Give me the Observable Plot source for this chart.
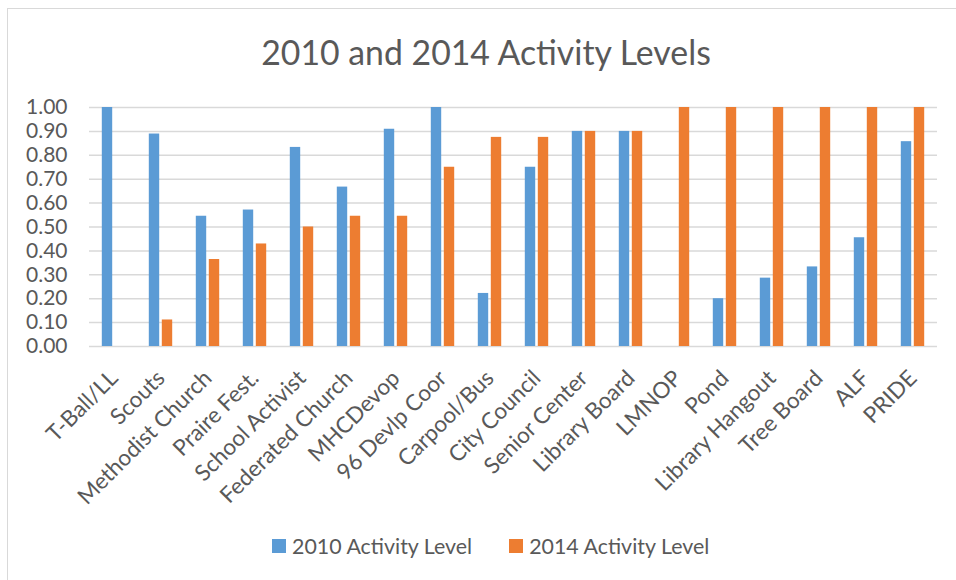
<!DOCTYPE html>
<html>
<head>
<meta charset="utf-8">
<script src="https://cdn.jsdelivr.net/npm/d3@7"></script>
<script src="https://cdn.jsdelivr.net/npm/@observablehq/plot@0.6"></script>
<style>
  html, body { margin: 0; padding: 0; background: #fff; }
  #chart { position: relative; width: 956px; height: 580px; overflow: hidden; font-family: Lato, "Open Sans", sans-serif; color: #595959; }
  #frame { position: absolute; left: 7px; top: 8px; width: 960px; height: 600px; border-left: 1.5px solid #d9d9d9; border-top: 1.5px solid #d9d9d9; }
  #title { position: absolute; left: 16px; width: 940px; top: 35px; text-align: center; font-size: 33.8px; line-height: 34px; white-space: nowrap; }
  #legend { position: absolute; left: 272px; top: 535px; display: flex; align-items: center; font-size: 21.4px; line-height: 22px; white-space: nowrap; }
  .item { display: flex; align-items: center; margin-right: 37px; }
  .swatch { width: 14px; height: 14px; margin-right: 6px; }
  #plot { position: absolute; left: 0; top: 0; }
</style>
</head>
<body>
<div id="chart">
  <div id="frame"></div>
  <div id="plot"></div>
  <div id="title"></div>
  <div id="legend"></div>
</div>
<script>
// Activity groups, in display order
const categories = [
  "T-Ball/LL", "Scouts", "Methodist Church", "Praire Fest.", "School Activist",
  "Federated Church", "MHCDevop", "96 Devlp Coor", "Carpool/Bus", "City Council",
  "Senior Center", "Library Board", "LMNOP", "Pond", "Library Hangout",
  "Tree Board", "ALF", "PRIDE"
];

// Activity level per group, 2010 and 2014
const level2010 = [1.00, 0.889, 0.545, 0.571, 0.833, 0.667, 0.909, 1.00, 0.222, 0.75,
                   0.90, 0.90, 0.00, 0.20, 0.286, 0.333, 0.455, 0.857];
const level2014 = [0.00, 0.111, 0.364, 0.429, 0.50, 0.545, 0.545, 0.75, 0.875, 0.875,
                   0.90, 0.90, 1.00, 1.00, 1.00, 1.00, 1.00, 1.00];

const seriesNames = ["2010 Activity Level", "2014 Activity Level"];
const seriesColors = ["#5b9bd5", "#ed7d31"];
const yTicks = [0, 0.1, 0.2, 0.3, 0.4, 0.5, 0.6, 0.7, 0.8, 0.9, 1.0];
const titleText = "2010 and 2014 Activity Levels";

const rows2010 = categories.map((c, i) => ({category: c, value: level2010[i]}));
const rows2014 = categories.map((c, i) => ({category: c, value: level2014[i]}));

const textColor = "#595959";
const barOffset = 6.5;   // half distance between the paired bars
const barInset = 18.3;   // narrows each bar inside its category band

const chart = Plot.plot({
  width: 956,
  height: 580,
  marginTop: 107,
  marginBottom: 234,
  marginLeft: 89,
  marginRight: 19,
  style: {fontFamily: "Lato, 'Open Sans', sans-serif", fontSize: "21px", color: textColor, background: "transparent"},
  x: {domain: categories, padding: 0},
  y: {domain: [0, 1]},
  marks: [
    Plot.ruleY(yTicks, {stroke: "#d9d9d9", strokeWidth: 1.5}),
    Plot.barY(rows2010, {x: "category", y: "value", fill: seriesColors[0], dx: -barOffset, insetLeft: barInset, insetRight: barInset}),
    Plot.barY(rows2014, {x: "category", y: "value", fill: seriesColors[1], dx: barOffset, insetLeft: barInset, insetRight: barInset}),
    Plot.axisY(yTicks, {tickSize: 0, tickPadding: 22, tickFormat: d3.format(".2f"), label: null, fill: textColor, fontSize: 21}),
    Plot.axisX({tickSize: 0, tickRotate: -45, tickPadding: 8, dx: 0, dy: 20, label: null, fill: textColor, fontSize: 22.5})
  ]
});
document.getElementById("plot").append(chart);

document.getElementById("title").textContent = titleText;

const legend = document.getElementById("legend");
seriesNames.forEach((name, i) => {
  const item = document.createElement("div");
  item.className = "item";
  const sw = document.createElement("div");
  sw.className = "swatch";
  sw.style.background = seriesColors[i];
  const label = document.createElement("span");
  label.textContent = name;
  item.append(sw, label);
  legend.append(item);
});
</script>
</body>
</html>
